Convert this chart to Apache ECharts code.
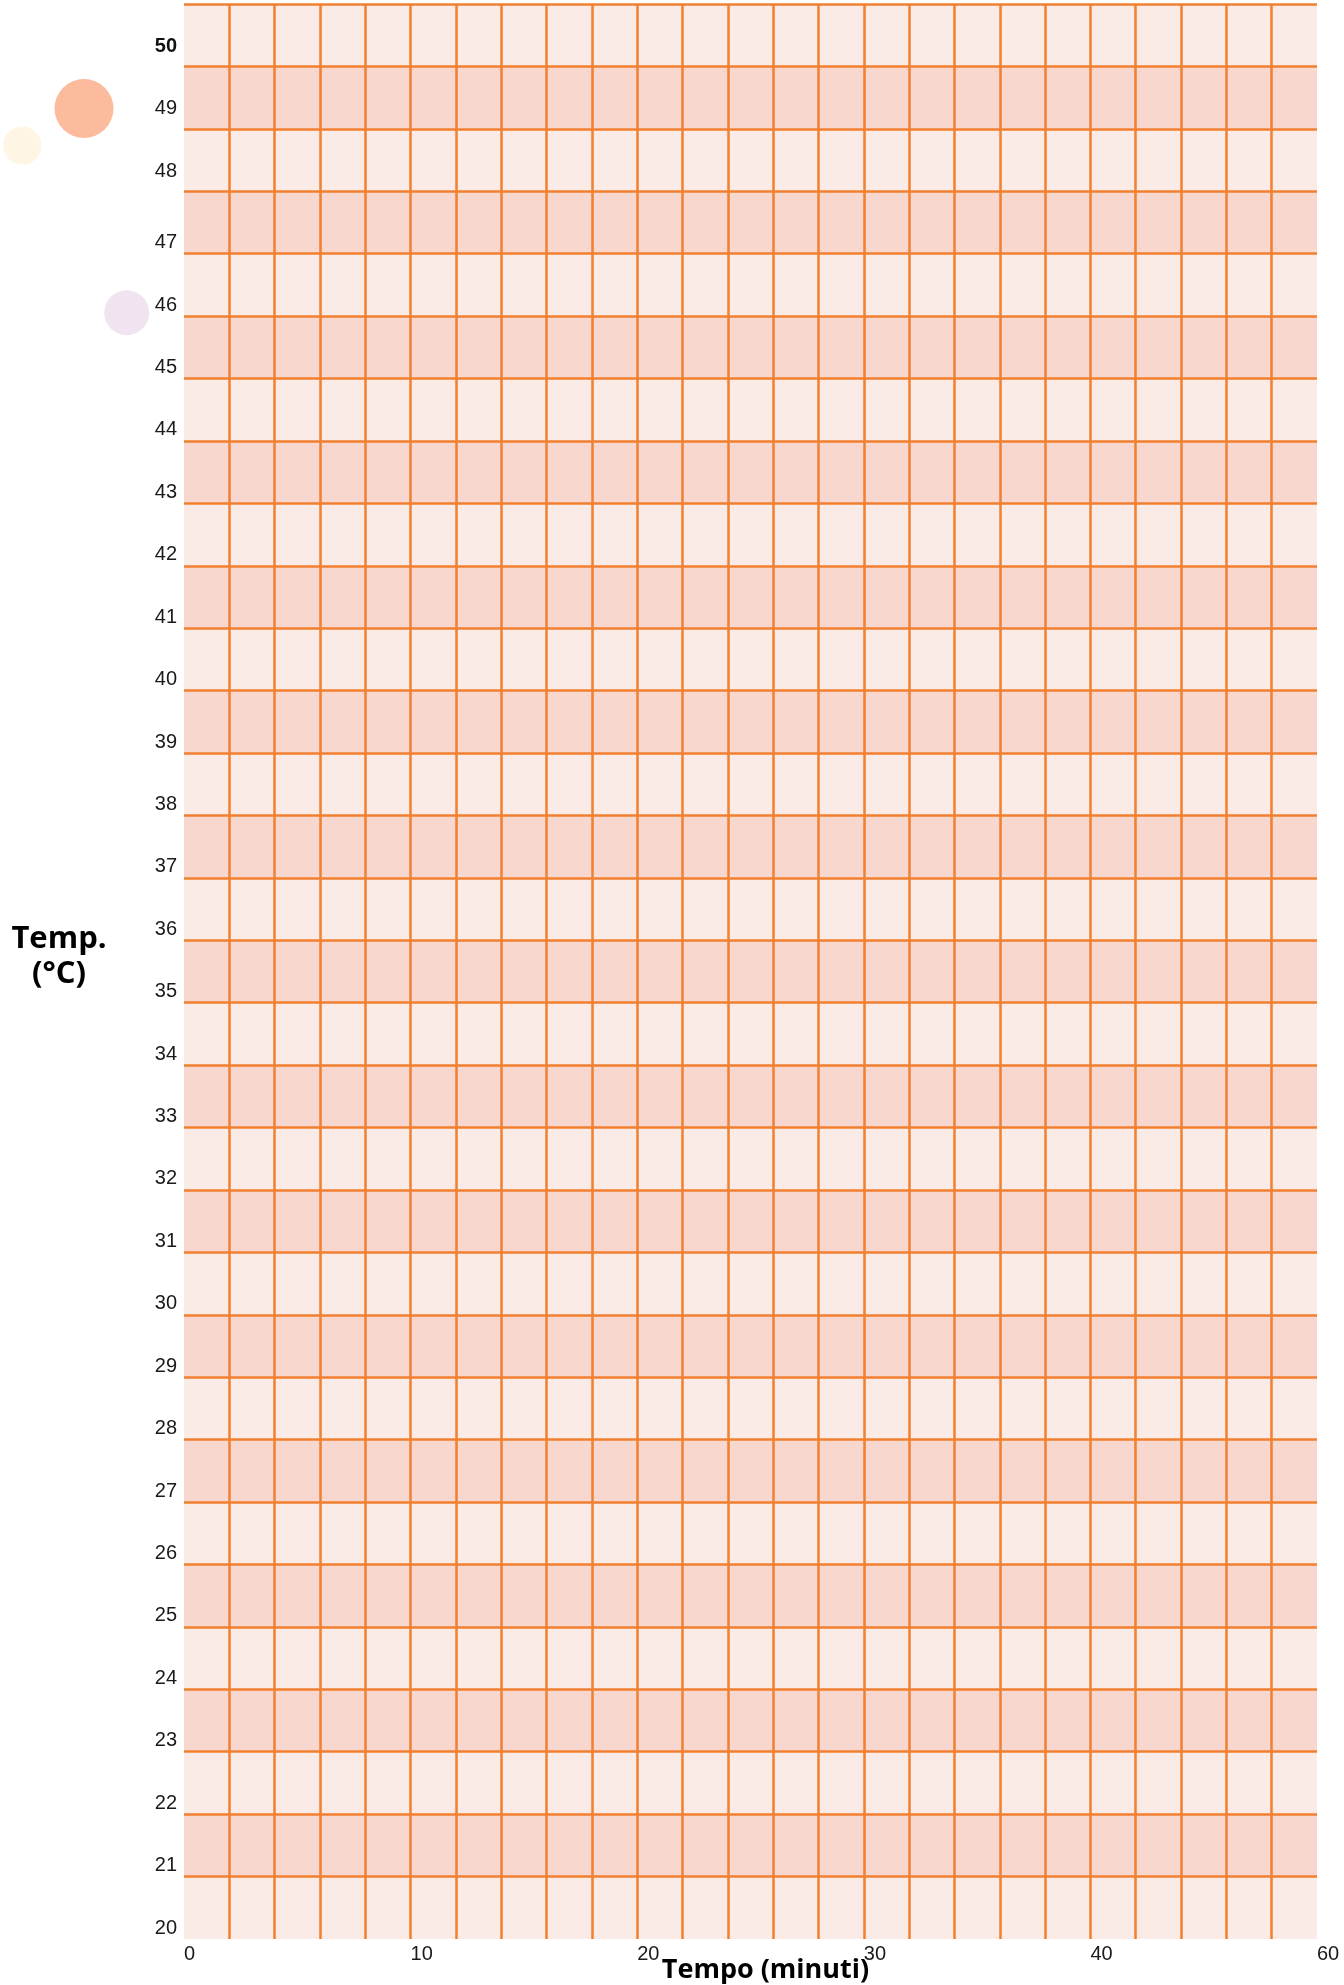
<!DOCTYPE html>
<html>
<head>
<meta charset="utf-8">
<script src="https://cdn.jsdelivr.net/npm/echarts@6/dist/echarts.min.js"></script>
<style>
  html, body { margin: 0; padding: 0; background: #fff; }
  #chart { width: 1344px; height: 1985px; }
</style>
</head>
<body>
<div id="chart"></div>
<script>
// assi del grafico (carta millimetrata vuota)
var xMin = 0, xMax = 50, xStep = 2;
var xLabelValues = [0, 10, 20, 30, 40, 50];
var xLabelTexts = ['0', '10', '20', '30', '40', '60'];
var yMin = 20, yMax = 51, yStep = 1;
var yHiddenLabels = [51];
var yRaisedLabels = [48, 49, 50];
var yBoldLabels = [50];
var emptyPoints = [];

var gridColor = '#f17f2f';
var bandColors = ['#fbebe6', '#f7d7ce'];
var labelFont = 'Liberation Sans';
var nameFont = 'Open Sans';

var myChart = echarts.init(document.getElementById('chart'));

var option = {
    backgroundColor: '#ffffff',
    animation: false,
    grid: {
        left: 184,
        right: 27,
        top: 4,
        bottom: 46,
        outerBoundsMode: 'none'
    },
    // cerchi decorativi in alto a sinistra
    graphic: [
        { type: 'circle', shape: { cx: 84, cy: 108.5, r: 29.5 }, style: { fill: '#fdbb9e' } },
        { type: 'circle', shape: { cx: 22.3, cy: 145.6, r: 19 }, style: { fill: '#fef5e4' } },
        { type: 'circle', shape: { cx: 126.7, cy: 312.7, r: 22.5 }, style: { fill: '#f1e4f1' } }
    ],
    xAxis: {
        type: 'value',
        min: xMin,
        max: xMax,
        interval: xStep,
        name: 'Tempo (minuti)',
        nameLocation: 'middle',
        nameGap: 18,
        nameMoveOverlap: false,
        nameTextStyle: {
            fontFamily: nameFont,
            fontWeight: 'bold',
            fontSize: 27,
            color: '#000',
            padding: [0, 0, 0, 30]
        },
        axisLine: { show: false },
        axisTick: { show: false },
        axisLabel: {
            show: true,
            showMinLabel: true,
            showMaxLabel: true,
            align: 'left',
            margin: 5,
            fontFamily: labelFont,
            fontSize: 20,
            color: '#1a1a1a',
            formatter: function (v) {
                var i = xLabelValues.indexOf(v);
                return i >= 0 ? xLabelTexts[i] : '';
            }
        },
        splitLine: {
            show: true,
            showMinLine: false,
            showMaxLine: false,
            lineStyle: { color: gridColor, width: 2.5 }
        }
    },
    yAxis: {
        type: 'value',
        min: yMin,
        max: yMax,
        interval: yStep,
        name: '{t|Temp.}\n{t|(°C)}\n{s| }',
        nameLocation: 'middle',
        nameRotate: 0,
        nameGap: 125,
        nameMoveOverlap: false,
        nameTextStyle: {
            fontFamily: nameFont,
            fontWeight: 'bold',
            fontSize: 31,
            color: '#000',
            align: 'center',
            verticalAlign: 'middle',
            rich: {
                t: { fontFamily: nameFont, fontWeight: 'bold', fontSize: 31, lineHeight: 35, color: '#000' },
                s: { fontSize: 10, lineHeight: 30 }
            }
        },
        axisLine: { show: false },
        axisTick: { show: false },
        axisLabel: {
            show: true,
            showMinLabel: true,
            showMaxLabel: true,
            margin: 7,
            verticalAlign: 'bottom',
            fontFamily: labelFont,
            fontSize: 20,
            color: '#1a1a1a',
            formatter: function (v) {
                if (yHiddenLabels.indexOf(v) >= 0) return '';
                if (yBoldLabels.indexOf(v) >= 0) return '{upb|' + v + '}';
                if (yRaisedLabels.indexOf(v) >= 0) return '{up|' + v + '}';
                return '{n|' + v + '}';
            },
            rich: {
                n: { fontFamily: labelFont, fontSize: 20, color: '#1a1a1a', padding: [0, 0, 1, 0] },
                up: { fontFamily: labelFont, fontSize: 20, color: '#1a1a1a', padding: [0, 0, 10, 0] },
                upb: { fontFamily: labelFont, fontSize: 20, fontWeight: 'bold', color: '#111', padding: [0, 0, 10, 0] }
            }
        },
        splitLine: {
            show: true,
            showMinLine: false,
            showMaxLine: true,
            lineStyle: { color: gridColor, width: 2.5 }
        },
        splitArea: {
            show: true,
            areaStyle: { color: bandColors }
        }
    },
    series: [
        {
            type: 'scatter',
            data: emptyPoints
        }
    ]
};
myChart.setOption(option);
</script>
</body>
</html>
